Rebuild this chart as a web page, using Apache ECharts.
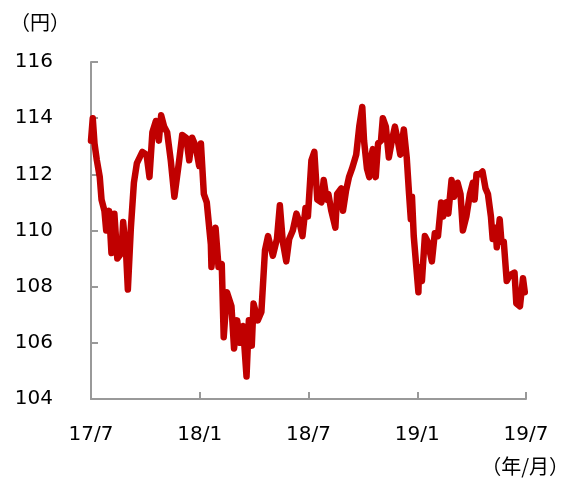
<!DOCTYPE html>
<html>
<head>
<meta charset="utf-8">
<script src="https://cdn.jsdelivr.net/npm/echarts@6/dist/echarts.min.js"></script>
<style>
  html, body { margin: 0; padding: 0; background: #fff; }
  #main { width: 567px; height: 480px; }
</style>
</head>
<body>
<div id="main"></div>
<script>
// ドル円レート（読み取り値）
var dates = [
  '2017-07-01','2017-07-04','2017-07-07','2017-07-11','2017-07-16','2017-07-19','2017-07-24','2017-07-27',
  '2017-08-01','2017-08-05','2017-08-10','2017-08-15','2017-08-22','2017-08-25','2017-08-30',
  '2017-09-02','2017-09-07','2017-09-12','2017-09-17','2017-09-26',
  '2017-10-03','2017-10-08','2017-10-13','2017-10-19','2017-10-24','2017-10-28',
  '2017-11-02','2017-11-07','2017-11-13','2017-11-19','2017-11-22','2017-11-27',
  '2017-12-02','2017-12-09','2017-12-14','2017-12-19','2017-12-25','2017-12-31',
  '2018-01-03','2018-01-08','2018-01-13','2018-01-20','2018-01-21','2018-01-28',
  '2018-02-02','2018-02-07','2018-02-10','2018-02-15','2018-02-22','2018-02-26',
  '2018-03-03','2018-03-08','2018-03-13','2018-03-19','2018-03-23','2018-03-28','2018-03-31',
  '2018-04-07','2018-04-13','2018-04-19','2018-04-24',
  '2018-05-02','2018-05-09','2018-05-14','2018-05-19','2018-05-25','2018-05-30',
  '2018-06-05','2018-06-11','2018-06-16','2018-06-21','2018-06-26','2018-06-30',
  '2018-07-06','2018-07-11','2018-07-16','2018-07-23','2018-07-27',
  '2018-08-01','2018-08-04','2018-08-09','2018-08-16','2018-08-19','2018-08-26','2018-08-29',
  '2018-09-03','2018-09-08','2018-09-13','2018-09-20','2018-09-25','2018-09-30',
  '2018-10-03','2018-10-08','2018-10-12','2018-10-15','2018-10-18','2018-10-23','2018-10-27',
  '2018-11-01','2018-11-04','2018-11-09','2018-11-14','2018-11-19','2018-11-24','2018-11-28',
  '2018-12-03','2018-12-09','2018-12-14','2018-12-18','2018-12-21','2018-12-23','2018-12-26',
  '2019-01-03','2019-01-04','2019-01-09','2019-01-14','2019-01-19','2019-01-26','2019-01-31',
  '2019-02-05','2019-02-10','2019-02-13','2019-02-18','2019-02-21','2019-02-26',
  '2019-03-02','2019-03-08','2019-03-13','2019-03-17','2019-03-23','2019-03-29',
  '2019-04-03','2019-04-06','2019-04-09','2019-04-14','2019-04-19','2019-04-24','2019-04-28',
  '2019-05-03','2019-05-06','2019-05-11','2019-05-13','2019-05-18','2019-05-21','2019-05-25','2019-05-30',
  '2019-06-04','2019-06-12','2019-06-15','2019-06-21','2019-06-26','2019-06-29'
];
var rates = [
  113.2,114.0,113.1,112.5,111.9,111.1,110.7,110.0,
  110.7,109.2,110.6,109.0,109.2,110.3,109.2,
  107.9,110.1,111.7,112.4,112.8,
  112.7,111.9,113.5,113.9,113.2,114.1,
  113.7,113.5,112.5,111.2,111.2,112.5,
  113.4,113.3,112.5,113.3,113.0,112.3,
  113.1,111.3,111.0,109.5,108.7,110.1,
  108.7,108.8,106.2,107.8,107.3,105.8,
  106.8,106.0,106.6,104.8,106.8,105.9,107.4,
  106.8,107.1,109.3,109.8,
  109.1,109.7,110.9,109.6,108.9,109.7,
  110.0,110.6,110.3,109.8,110.8,110.5,
  112.5,112.8,111.1,111.0,111.8,
  111.1,111.3,110.7,110.1,111.3,111.5,110.7,
  111.4,111.9,112.2,112.7,113.7,114.4,
  113.2,112.2,111.9,112.6,112.9,111.9,113.1,
  113.2,114.0,113.7,112.6,113.2,113.7,113.3,
  112.7,113.6,112.6,111.3,110.4,111.2,109.8,
  107.8,108.7,108.2,109.8,109.6,108.9,109.9,
  109.8,111.0,110.5,111.0,110.6,111.8,
  111.2,111.7,111.3,110.0,110.5,111.3,
  111.7,111.1,112.0,112.0,112.1,111.5,111.3,
  110.5,109.7,110.1,109.4,110.4,109.6,109.6,108.2,
  108.4,108.5,107.4,107.3,108.3,107.8
];
var monthLabels = ['17/7', '18/1', '18/7', '19/1', '19/7'];

// 2017年7月からの経過月数に変換
function toMonth(s) {
  var p = s.split('-');
  var y = +p[0], m = +p[1], d = +p[2];
  var days = new Date(y, m, 0).getDate();
  return (y - 2017) * 12 + (m - 7) + (d - 1) / days;
}

var seriesData = dates.map(function (d, i) {
  return [toMonth(d), rates[i]];
});

var axisColor = '#999';
var font = 'DejaVu Sans';

var chart = echarts.init(document.getElementById('main'), null, { renderer: 'canvas' });
chart.setOption({
  animation: false,
  grid: { left: 91, right: 41, top: 62, bottom: 81 },
  graphic: [
    {
      type: 'text', left: 10, top: 12,
      style: { text: '（円）', fontSize: 20, fill: '#000', fontFamily: 'Noto Sans CJK JP' }
    },
    {
      type: 'text', right: -2, top: 456,
      style: { text: '（年/月）', fontSize: 20, fill: '#000', fontFamily: 'Noto Sans CJK JP' }
    }
  ],
  xAxis: {
    type: 'value',
    min: 0, max: 24, interval: 6,
    axisLine: { lineStyle: { color: axisColor, width: 2 } },
    axisTick: { inside: true, length: 7, lineStyle: { color: axisColor, width: 2 } },
    splitLine: { show: false },
    axisLabel: {
      margin: 26, fontSize: 20, color: '#000', fontFamily: font,
      formatter: function (v) { return monthLabels[v / 6]; }
    }
  },
  yAxis: {
    type: 'value',
    min: 104, max: 116, interval: 2,
    axisLine: { show: true, lineStyle: { color: axisColor, width: 2 } },
    axisTick: { show: true, inside: true, length: 7, lineStyle: { color: axisColor, width: 2 } },
    splitLine: { show: false },
    axisLabel: { margin: 38, fontSize: 20, color: '#000', fontFamily: font }
  },
  series: [{
    type: 'line',
    data: seriesData,
    symbol: 'none',
    lineStyle: { color: '#C00000', width: 6.5, join: 'round', cap: 'round' }
  }]
});
</script>
</body>
</html>
